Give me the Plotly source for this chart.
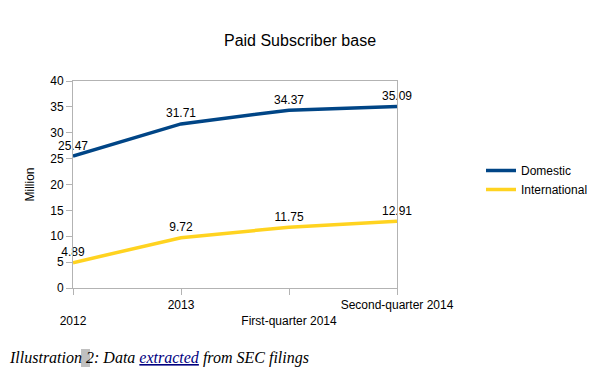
import plotly.graph_objects as go

categories = ["2012", "2013", "First-quarter 2014", "Second-quarter 2014"]
domestic = [25.47, 31.71, 34.37, 35.09]
international = [4.89, 9.72, 11.75, 12.91]
y_ticks = [0, 5, 10, 15, 20, 25, 30, 35, 40]

# page body has an 8px margin; work in reference pixel coords and subtract it
O = 8
W, H = 600 - O, 374 - O
L, R, T, B = 73 - O, 397 - O, 81 - O, 288 - O

def px(x):
    return (x - O - L) / (R - L)

def py(y):
    return (B - (y - O)) / (B - T)

xs = list(range(len(categories)))
ticktext = [("<br>" + c) if i % 2 == 0 else c for i, c in enumerate(categories)]

fig = go.Figure()
for name, vals, color in [("Domestic", domestic, "#004586"),
                          ("International", international, "#ffd320")]:
    fig.add_trace(go.Scatter(
        x=xs, y=vals, name=name, mode="lines+markers+text",
        line=dict(color=color, width=3.5),
        marker=dict(size=4, color="rgba(0,0,0,0)"),
        text=[f"{v:.2f}" for v in vals], textposition="top center",
        textfont=dict(family="Liberation Sans", size=12, color="#000000"),
        cliponaxis=False,
    ))

fig.update_layout(
    width=W, height=H,
    margin=dict(l=L, r=W - R, t=T, b=H - B, autoexpand=False),
    paper_bgcolor="white", plot_bgcolor="white",
    font=dict(family="Liberation Sans", size=12, color="#000000"),
    title=dict(text="Paid Subscriber base", x=(300 - O) / W, xanchor="center",
               y=1 - (40 - O) / H, yanchor="middle",
               font=dict(family="Liberation Sans", size=16, color="#000000")),
    showlegend=True,
    legend=dict(x=px(481), y=py(156), xanchor="left", yanchor="top",
                font=dict(family="Liberation Sans", size=12),
                tracegroupgap=0, itemwidth=30, bgcolor="rgba(0,0,0,0)"),
    xaxis=dict(range=[0, len(categories) - 1], tickvals=xs, ticktext=ticktext,
               tickangle=0, automargin=False,
               showgrid=False, zeroline=False, showline=True, linecolor="#b3b3b3",
               linewidth=1, mirror=True, ticks="outside", ticklen=6, tickcolor="#b3b3b3",
               tickfont=dict(family="Liberation Sans", size=12), fixedrange=True),
    yaxis=dict(range=[0, 40], tickvals=y_ticks, showgrid=False, zeroline=False,
               automargin=False,
               showline=True, linecolor="#b3b3b3", linewidth=1, mirror=True,
               ticks="outside", ticklen=6, tickcolor="#b3b3b3",
               tickfont=dict(family="Liberation Sans", size=12),
               title=dict(text="Million", standoff=13,
                          font=dict(family="Liberation Sans", size=12))),
)

# caption (starts at the figure's left edge, which is as far left as the page allows)
CX = O
fig.add_shape(type="rect", xref="paper", yref="paper",
              x0=px(CX + 73), x1=px(CX + 82), y0=py(367), y1=py(349),
              fillcolor="#c0c0c0", line=dict(width=0), layer="below")
fig.add_annotation(
    xref="paper", yref="paper", x=px(CX), y=py(358), xanchor="left", yanchor="middle",
    showarrow=False, borderpad=0,
    text="<i>Illustration 2: Data <span style='color:#000080'><u>extracted</u></span> from SEC filings</i>",
    font=dict(family="Liberation Serif", size=16, color="#000000"),
)

fig.write_html("out.html")
